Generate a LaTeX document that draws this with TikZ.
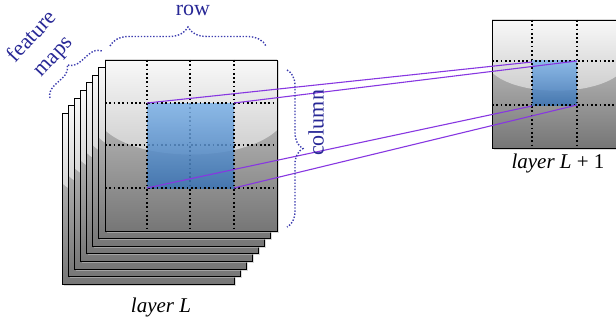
\documentclass[tikz,border=0pt]{standalone}
\usepackage{fontspec}
\setmainfont{Liberation Serif}
\usetikzlibrary{decorations.pathreplacing}
\definecolor{braceblue}{RGB}{60,60,175}
\definecolor{textblue}{RGB}{40,40,150}
\definecolor{linkpurple}{RGB}{135,55,225}
\definecolor{bluetop}{RGB}{125,178,232}
\definecolor{bluebot}{RGB}{58,115,180}
\definecolor{glosstop}{RGB}{248,248,248}
\definecolor{glossbot}{RGB}{202,202,202}
\definecolor{basetop}{RGB}{212,212,212}
\definecolor{basebot}{RGB}{118,118,118}
\newcommand{\mysheet}[4]{%
  \fill[black!25,opacity=0.6] ({#1+1.5},{#2+1.5}) rectangle ++(#3,#4);
  \begin{scope}
    \clip (#1,#2) rectangle ++(#3,#4);
    \shade[top color=basetop, bottom color=basebot] (#1,#2) rectangle ++(#3,#4);
    \shade[top color=glosstop, bottom color=glossbot] (#1,#2) -- ({#1+#3},#2) -- ({#1+#3},{#2+0.41*#4})
      .. controls ({#1+0.8*#3},{#2+0.6*#4}) and ({#1+0.2*#3},{#2+0.6*#4}) .. (#1,{#2+0.41*#4}) -- cycle;
  \end{scope}
  \draw[black, line width=0.9pt] (#1,#2) rectangle ++(#3,#4);
}
\tikzset{
  gridline/.style={black, line width=1.7pt, dash pattern=on 1.7pt off 2.6pt},
  bluecell/.style={top color=bluetop, bottom color=bluebot, opacity=0.85},
  dotbrace/.style={braceblue, line width=1.4pt, dash pattern=on 1.4pt off 1.7pt, decorate},
  link/.style={linkpurple, line width=1.1pt},
  bluelabel/.style={textblue, font=\fontsize{22}{29}\selectfont, inner sep=0pt},
  layerlabel/.style={black, font=\fontsize{21}{24}\selectfont\itshape, inner sep=0pt}
}
\begin{document}
\begin{tikzpicture}[x=1pt, y=-1pt]
\useasboundingbox (0,0) rectangle (616,321);
\begin{scope}
\clip (0,0) rectangle (616,321);
% stacked feature maps of layer L
\foreach \i in {7,6,...,1}{
  \pgfmathsetmacro\xx{105-6.1*\i}
  \pgfmathsetmacro\yy{60+7.6*\i}
  \mysheet{\xx}{\yy}{172}{171}
}
\mysheet{105}{60}{172}{171}
% grid of front map
\draw[gridline] (105,145) -- (277,145);
\draw[gridline] (190,60) -- (190,231);
\shade[bluecell] (147,103) rectangle (234,188);
\draw[gridline] (105,103) -- (277,103);
\draw[gridline] (105,188) -- (277,188);
\draw[gridline] (147,60) -- (147,231);
\draw[gridline] (234,60) -- (234,231);
% layer L+1 map
\mysheet{492}{20}{129}{128}
\shade[bluecell] (532,61) rectangle (577,105);
\draw[gridline] (492,61) -- (621,61);
\draw[gridline] (492,105) -- (621,105);
\draw[gridline] (532,20) -- (532,148);
\draw[gridline] (577,20) -- (577,148);
\end{scope}
% corners
\coordinate (a1) at (147,103);
\coordinate (a2) at (234,103);
\coordinate (a3) at (147,188);
\coordinate (a4) at (234,188);
\coordinate (b1) at (532,62);
\coordinate (b2) at (577,61);
\coordinate (b3) at (532,106);
\coordinate (b4) at (577,105);
\draw[link] (a1) -- (b1);
\draw[link] (a2) -- (b2);
\draw[link] (a3) -- (b3);
\draw[link] (a4) -- (b4);
% braces
\coordinate (rowL) at (110,46);
\coordinate (rowR) at (266,46);
\draw[dotbrace, decoration={brace, amplitude=19pt}] (rowL) -- (rowR);
\coordinate (colT) at (287,70);
\coordinate (colB) at (287,227);
\draw[dotbrace, decoration={brace, amplitude=16pt}] (colT) -- (colB);
\coordinate (fmA) at (50,98);
\coordinate (fmB) at (102,51);
\draw[dotbrace, decoration={brace, amplitude=13pt}] (fmA) -- (fmB);
% labels
\node[bluelabel, anchor=base] (rowlab) at (193,16) {row};
\node[bluelabel, rotate=90] (collab) at (316,123) {column};
\node[bluelabel, rotate=47, align=center] (fmlab) at (43,47) {feature\\maps};
\node[layerlabel, anchor=base] (labL) at (161,312) {layer L};
\node[layerlabel, anchor=base] (labL1) at (558,168) {layer L \upshape+ 1};
\end{tikzpicture}
\end{document}
